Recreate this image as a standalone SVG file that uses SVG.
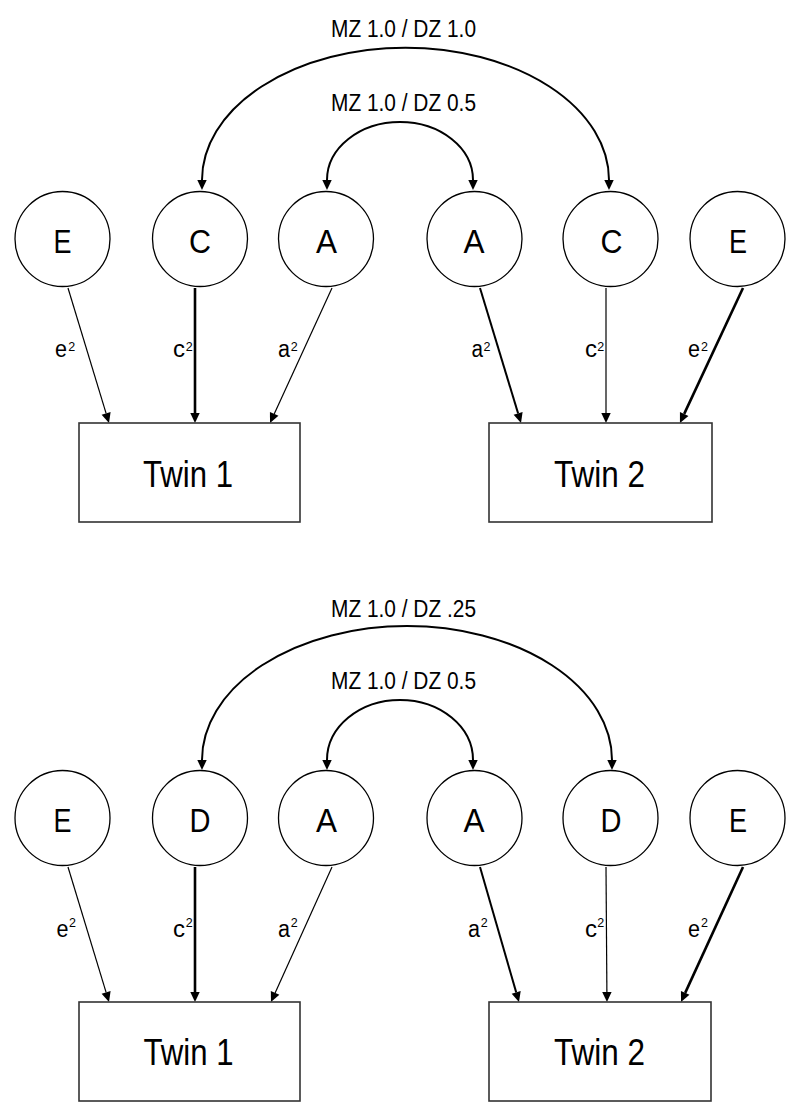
<svg xmlns="http://www.w3.org/2000/svg" width="800" height="1116" viewBox="0 0 800 1116">
<style>
  text { font-family: "Liberation Sans", Arial, sans-serif; fill: #000; }
  .node circle { fill: #fff; stroke: #000; stroke-width: 1.3; }
  .node text { font-size: 34px; text-anchor: middle; }
  .box rect { fill: #fff; stroke: #333; stroke-width: 1.6; }
  .box text { font-size: 37px; text-anchor: middle; }
  .title { font-size: 23px; text-anchor: middle; }
  .lbl { font-size: 23px; }
  .sup { font-size: 12.5px; }
  .conn line, .conn path { fill: none; stroke: #000; }
  .thin { stroke-width: 1.2; }
  .mid { stroke-width: 2; }
  .thick { stroke-width: 2.6; }
</style>
<defs>
  <marker id="ah" markerUnits="userSpaceOnUse" viewBox="0 -5 10 10" refX="0" refY="0" markerWidth="10" markerHeight="10" orient="auto-start-reverse" overflow="visible">
    <path d="M0,-4.7 L10,0 L0,4.7 Z" fill="#000"/>
  </marker>
</defs>

<!-- ===== Top model (ACE) ===== -->
<g id="top-titles">
  <text class="title" x="403.5" y="37" textLength="145" lengthAdjust="spacingAndGlyphs">MZ 1.0 / DZ 1.0</text>
  <text class="title" x="403.5" y="111" textLength="145" lengthAdjust="spacingAndGlyphs">MZ 1.0 / DZ 0.5</text>
</g>

<g class="conn" id="top-connectors">
  <path class="mid" d="M202,180 A203 132 0 0 1 609,180" marker-start="url(#ah)" marker-end="url(#ah)"/>
  <path class="mid" d="M327,180 A73 58 0 0 1 473,180" marker-start="url(#ah)" marker-end="url(#ah)"/>
  <line class="thin" x1="68" y1="288" x2="106.1" y2="413.4" marker-end="url(#ah)"/>
  <line class="thick" x1="195" y1="288" x2="195" y2="413" marker-end="url(#ah)"/>
  <line class="thin" x1="332" y1="288" x2="274.2" y2="413.9" marker-end="url(#ah)"/>
  <line class="mid" x1="480" y1="288" x2="518.1" y2="413.4" marker-end="url(#ah)"/>
  <line class="thin" x1="606" y1="288" x2="606" y2="413" marker-end="url(#ah)"/>
  <line class="thick" x1="743" y1="288" x2="684.2" y2="413.9" marker-end="url(#ah)"/>
</g>

<g id="top-labels">
  <text class="lbl" x="55" y="357" textLength="12" lengthAdjust="spacingAndGlyphs">e</text><text class="sup" x="68.3" y="350.7">2</text>
  <text class="lbl" x="173" y="357" textLength="12" lengthAdjust="spacingAndGlyphs">c</text><text class="sup" x="185.7" y="350.7">2</text>
  <text class="lbl" x="278" y="357" textLength="12" lengthAdjust="spacingAndGlyphs">a</text><text class="sup" x="290.7" y="350.7">2</text>
  <text class="lbl" x="471.5" y="357" textLength="11.5" lengthAdjust="spacingAndGlyphs">a</text><text class="sup" x="483.5" y="350.7">2</text>
  <text class="lbl" x="585" y="357" textLength="12" lengthAdjust="spacingAndGlyphs">c</text><text class="sup" x="597.3" y="350.7">2</text>
  <text class="lbl" x="688" y="357" textLength="12" lengthAdjust="spacingAndGlyphs">e</text><text class="sup" x="701" y="350.7">2</text>
</g>

<g id="t-E1" class="node"><circle cx="62.5" cy="239" r="47.5"/><text x="62.5" y="253" textLength="18" lengthAdjust="spacingAndGlyphs">E</text></g>
<g id="t-C1" class="node"><circle cx="200" cy="239" r="47.5"/><text x="200" y="253" textLength="22" lengthAdjust="spacingAndGlyphs">C</text></g>
<g id="t-A1" class="node"><circle cx="326" cy="239" r="47.5"/><text x="326.5" y="253" textLength="21" lengthAdjust="spacingAndGlyphs">A</text></g>
<g id="t-A2" class="node"><circle cx="474.5" cy="239" r="47.5"/><text x="474" y="253" textLength="21" lengthAdjust="spacingAndGlyphs">A</text></g>
<g id="t-C2" class="node"><circle cx="610.5" cy="239" r="47.5"/><text x="611.5" y="253" textLength="22" lengthAdjust="spacingAndGlyphs">C</text></g>
<g id="t-E2" class="node"><circle cx="737.5" cy="239" r="47.5"/><text x="738" y="253" textLength="18" lengthAdjust="spacingAndGlyphs">E</text></g>

<g id="t-Twin1" class="box"><rect x="79" y="423" width="221" height="99"/><text x="188" y="487" textLength="90" lengthAdjust="spacingAndGlyphs">Twin 1</text></g>
<g id="t-Twin2" class="box"><rect x="489" y="423" width="223" height="99"/><text x="599.5" y="487" textLength="91" lengthAdjust="spacingAndGlyphs">Twin 2</text></g>

<!-- ===== Bottom model (ADE) ===== -->
<g id="bottom-titles">
  <text class="title" x="403.5" y="617" textLength="145" lengthAdjust="spacingAndGlyphs">MZ 1.0 / DZ .25</text>
  <text class="title" x="403.5" y="689" textLength="145" lengthAdjust="spacingAndGlyphs">MZ 1.0 / DZ 0.5</text>
</g>

<g class="conn" id="bottom-connectors">
  <path class="mid" d="M202,760 A205 134 0 0 1 612,760" marker-start="url(#ah)" marker-end="url(#ah)"/>
  <path class="mid" d="M327,760 A73 60 0 0 1 473,760" marker-start="url(#ah)" marker-end="url(#ah)"/>
  <line class="thin" x1="68" y1="867" x2="106.1" y2="992.4" marker-end="url(#ah)"/>
  <line class="thick" x1="195" y1="867" x2="195" y2="992" marker-end="url(#ah)"/>
  <line class="thin" x1="332" y1="867" x2="275.1" y2="992.9" marker-end="url(#ah)"/>
  <line class="mid" x1="480" y1="867" x2="516.2" y2="992.4" marker-end="url(#ah)"/>
  <line class="thin" x1="606" y1="867" x2="606.9" y2="992" marker-end="url(#ah)"/>
  <line class="thick" x1="743" y1="867" x2="685.2" y2="992.9" marker-end="url(#ah)"/>
</g>

<g id="bottom-labels">
  <text class="lbl" x="56.5" y="937" textLength="12" lengthAdjust="spacingAndGlyphs">e</text><text class="sup" x="69" y="927">2</text>
  <text class="lbl" x="173" y="937" textLength="12" lengthAdjust="spacingAndGlyphs">c</text><text class="sup" x="185.7" y="927">2</text>
  <text class="lbl" x="278" y="937" textLength="12" lengthAdjust="spacingAndGlyphs">a</text><text class="sup" x="290.7" y="927">2</text>
  <text class="lbl" x="468" y="937" textLength="12" lengthAdjust="spacingAndGlyphs">a</text><text class="sup" x="480.7" y="927">2</text>
  <text class="lbl" x="585" y="937" textLength="12" lengthAdjust="spacingAndGlyphs">c</text><text class="sup" x="597.3" y="927">2</text>
  <text class="lbl" x="688" y="937" textLength="12" lengthAdjust="spacingAndGlyphs">e</text><text class="sup" x="701" y="927">2</text>
</g>

<g id="b-E1" class="node"><circle cx="62.5" cy="818" r="47.5"/><text x="62.5" y="832" textLength="18" lengthAdjust="spacingAndGlyphs">E</text></g>
<g id="b-D1" class="node"><circle cx="200" cy="818" r="47.5"/><text x="200" y="832" textLength="21" lengthAdjust="spacingAndGlyphs">D</text></g>
<g id="b-A1" class="node"><circle cx="326" cy="818" r="47.5"/><text x="326.5" y="832" textLength="21" lengthAdjust="spacingAndGlyphs">A</text></g>
<g id="b-A2" class="node"><circle cx="474.5" cy="818" r="47.5"/><text x="474" y="832" textLength="21" lengthAdjust="spacingAndGlyphs">A</text></g>
<g id="b-D2" class="node"><circle cx="610.5" cy="818" r="47.5"/><text x="611" y="832" textLength="21" lengthAdjust="spacingAndGlyphs">D</text></g>
<g id="b-E2" class="node"><circle cx="737.5" cy="818" r="47.5"/><text x="738" y="832" textLength="18" lengthAdjust="spacingAndGlyphs">E</text></g>

<g id="b-Twin1" class="box"><rect x="79" y="1002" width="221" height="99"/><text x="188.5" y="1065" textLength="90" lengthAdjust="spacingAndGlyphs">Twin 1</text></g>
<g id="b-Twin2" class="box"><rect x="489" y="1002" width="222" height="99"/><text x="599.5" y="1065" textLength="91" lengthAdjust="spacingAndGlyphs">Twin 2</text></g>
</svg>
